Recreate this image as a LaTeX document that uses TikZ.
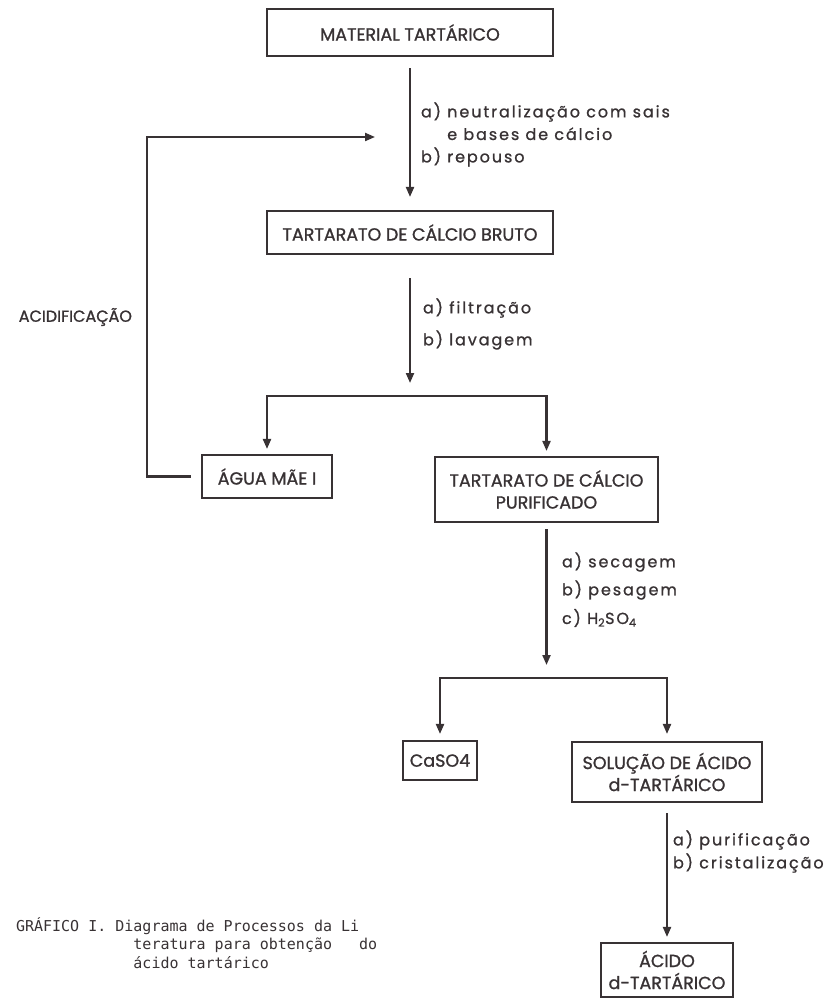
\documentclass[tikz,border=0pt]{standalone}
\usepackage{fontspec}
\setmainfont{Poppins}
\newfontfamily\boxfont[FakeBold=1.2]{Poppins}
\newfontfamily\labelfont[LetterSpace=12,FakeBold=1]{Poppins}
\newfontfamily\typefont{DejaVu Sans Mono}
\usetikzlibrary{arrows.meta}
\definecolor{ink}{RGB}{56,50,52}
\tikzset{every picture/.style={line width=2.1pt}}

\begin{document}
\begin{tikzpicture}[x=1pt,y=1pt,yscale=-1,xscale=1,
    box/.style={draw=ink, text=ink, inner sep=0pt, align=center, font=\boxfont\fontsize{17.5}{22}\selectfont},
    flow/.style={draw=ink, -{Triangle[length=10pt,width=8pt]}},
    lbl/.style={text=ink, anchor=west, inner sep=0pt, font=\labelfont\fontsize{16}{19}\selectfont}]
    \path[use as bounding box] (0,0) rectangle (829,1000);

    % Boxes
    \node[box, minimum width=286pt, minimum height=47pt] (material) at (410,32.5) {MATERIAL TARTÁRICO};
    \node[box, minimum width=286pt, minimum height=43pt] (bruto) at (410,232.5) {TARTARATO DE CÁLCIO BRUTO};
    \node[box, minimum width=130pt, minimum height=43pt] (agua) at (267,476.5) {ÁGUA MÃE I};
    \node[box, minimum width=223pt, minimum height=65pt] (purificado) at (546.5,489.5) {TARTARATO DE CÁLCIO\\PURIFICADO};
    \node[box, minimum width=74pt, minimum height=39pt] (caso) at (440,760.5) {CaSO4};
    \node[box, minimum width=190pt, minimum height=60pt] (solucao) at (667,772) {SOLUÇÃO DE ÁCIDO\\d-TARTÁRICO};
    \node[box, minimum width=132pt, minimum height=54pt] (acido) at (667,970) {ÁCIDO\\d-TARTÁRICO};

    % Branch points
    \coordinate (canto) at (147,137);
    \coordinate (entrada) at (375,137);
    \coordinate (ramo1) at (410,396);
    \coordinate (ramo2) at (546.5,678);

    % Connectors
    \draw[flow, shorten <=11pt, shorten >=13pt] (material) -- (bruto);
    \draw[flow, shorten <=10pt] (agua.west) -| (canto) -- (entrada);
    \draw[flow, shorten <=23pt, shorten >=13pt] (bruto) -- (ramo1);
    \draw[flow, shorten >=5pt] (ramo1) -| (agua.north);
    \draw[flow, shorten >=5pt] (ramo1) -| (purificado.north);
    \draw[flow, shorten <=6pt, shorten >=13pt] (purificado) -- (ramo2);
    \draw[flow, shorten >=6pt] (ramo2) -| (caso.north);
    \draw[flow, shorten >=7pt] (ramo2) -| (solucao.north);
    \draw[flow, shorten <=10pt, shorten >=5pt] (solucao) -- (acido);

    % Text Node
    \node[box, draw=none, anchor=east, font=\boxfont\fontsize{16}{20}\selectfont] (acidificacao) at (133,317) {ACIDIFICAÇÃO};
    \node[lbl] (neutra) at (420,112) {a)\ neutralização com sais};
    \node[lbl] (bases) at (420,134) {\phantom{a)\ }e bases de cálcio};
    \node[lbl] (repouso) at (420,157) {b)\ repouso};
    \node[lbl] (filtra) at (422,308) {a)\ filtração};
    \node[lbl] (lava) at (422,340) {b)\ lavagem};
    \node[lbl] (seca) at (561,562) {a)\ secagem};
    \node[lbl] (pesa) at (561,590) {b)\ pesagem};
    \node[lbl] (sulfa) at (561,618) {c)\ H\textsubscript{2}SO\textsubscript{4}};
    \node[lbl] (purifica) at (672,840) {a)\ purificação};
    \node[lbl] (crista) at (672,863) {b)\ cristalização};

    % Caption
    \node[anchor=base west, inner sep=0pt, text=ink, align=left, font=\typefont\fontsize{15}{17}\selectfont] (legenda) at (15,968)
        {GRÁFICO I. Diagrama de Processos da Li\\
         \phantom{GRÁFICO I. Di}teratura para obtenção\ \ \ do\\
         \phantom{GRÁFICO I. Di}ácido tartárico};
\end{tikzpicture}
\end{document}
